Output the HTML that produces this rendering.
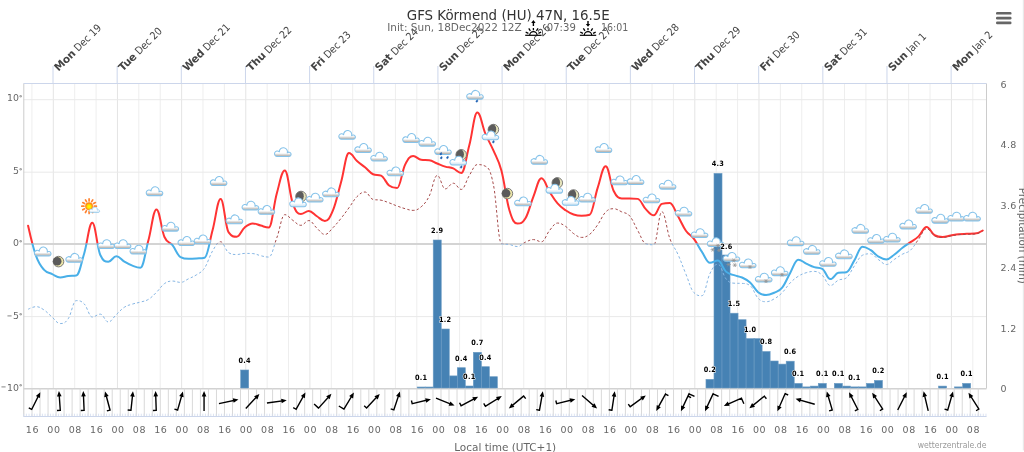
<!DOCTYPE html>
<html lang="en"><head><meta charset="utf-8"><title>GFS Körmend (HU) 47N, 16.5E</title>
<style>html,body{margin:0;padding:0;background:#fff;overflow:hidden}svg{display:block}text{font-family:"DejaVu Sans Condensed","DejaVu Sans","Liberation Sans",sans-serif}.bw,.w text{font-family:"DejaVu Sans","Liberation Sans",sans-serif}</style></head><body>
<svg width="1024" height="452" viewBox="0 0 1024 452">
<defs>
<linearGradient id="cg" x1="0" y1="0" x2="0" y2="1"><stop offset="0" stop-color="#fff"/><stop offset="0.62" stop-color="#fff"/><stop offset="0.9" stop-color="#bdb9b5"/><stop offset="1" stop-color="#9fc9e4"/></linearGradient>
<linearGradient id="cg2" x1="0" y1="0" x2="0" y2="1"><stop offset="0" stop-color="#fff"/><stop offset="0.6" stop-color="#fff"/><stop offset="1" stop-color="#c4dff0"/></linearGradient>
<radialGradient id="sg" cx="0.5" cy="0.55" r="0.5"><stop offset="0" stop-color="#ffff00"/><stop offset="0.45" stop-color="#ffe800"/><stop offset="1" stop-color="#ff7a10"/></radialGradient>
<g id="cl"><path d="M-5.5,4.42A2.8,2.8 0 1 1 -3.45,-0.29A4.05,4.05 0 1 1 4.5,0.71A2.2,2.2 0 1 1 6.1,4.42Z" fill="url(#cg)" stroke="#86c3ea" stroke-width="1.05" stroke-linejoin="round"/></g>
<g id="cl2"><path d="M-5.5,4.42A2.8,2.8 0 1 1 -3.45,-0.29A4.05,4.05 0 1 1 4.5,0.71A2.2,2.2 0 1 1 6.1,4.42Z" fill="url(#cg2)" stroke="#86c3ea" stroke-width="1.05" stroke-linejoin="round"/></g>
<g id="mo"><circle r="5.3" fill="#ece6a8" stroke="#6e6e6e" stroke-width="0.9"/><circle cx="-1.3" cy="-0.4" r="4.3" fill="#5a5a5a"/></g>
<clipPath id="mclip"><circle r="5.3"/></clipPath>
<g id="mo2"><circle r="5.3" fill="#e8e6bc"/><circle cx="-3.9" cy="-0.3" r="6.7" fill="#5c5c5c" clip-path="url(#mclip)"/><circle r="5.3" fill="none" stroke="#707070" stroke-width="0.9"/></g>
<g id="dr"><path d="M0.7,-1.3C1.2,-0.3 1,1.1 0,1.1C-1,1.1 -1.1,0 -0.5,-0.6Z" fill="#1f62b4" stroke="#1f62b4" stroke-width="0.5"/></g>
<g id="sf" stroke="#929292" stroke-width="0.75" stroke-linecap="round"><path d="M-1.8,0H1.8M-0.9,-1.55L0.9,1.55M0.9,-1.55L-0.9,1.55"/></g>
<path id="a0" d="M0,5.9L-1.25,5.9 0,8.8 1.25,5.9 0,5.9 0,-9.4"/>
<path id="a1" d="M0,5.9L-1.25,5.9 0,8.8 1.25,5.9 0,5.9 0,-9.4M0,-8.7L3.3,-8.7"/>
<path id="a2" d="M0,5.9L-1.25,5.9 0,8.8 1.25,5.9 0,5.9 0,-9.4M0,-8.7L6,-8.7"/>
<path id="a3" d="M0,5.9L-1.25,5.9 0,8.8 1.25,5.9 0,5.9 0,-9.4M0,-8.7L6,-8.7M0,-6L3.5,-6"/>
<clipPath id="cu"><rect x="0" y="0" width="1024" height="243.5"/></clipPath>
<clipPath id="cd"><rect x="0" y="243.5" width="1024" height="300"/></clipPath>
</defs>
<rect width="1024" height="452" fill="#fff"/>
<rect x="1022.8" y="0" width="1.2" height="450.4" fill="#e9e9e9"/>
<g fill="none"><path d="M31.92,83.5V388.5" stroke="#eeeeee" stroke-width="1"/><path d="M53.3,83.5V388.5" stroke="#e4e4e4" stroke-width="1"/><path d="M74.69,83.5V388.5" stroke="#eeeeee" stroke-width="1"/><path d="M96.07,83.5V388.5" stroke="#eeeeee" stroke-width="1"/><path d="M117.46,83.5V388.5" stroke="#e4e4e4" stroke-width="1"/><path d="M138.84,83.5V388.5" stroke="#eeeeee" stroke-width="1"/><path d="M160.22,83.5V388.5" stroke="#eeeeee" stroke-width="1"/><path d="M181.61,83.5V388.5" stroke="#e4e4e4" stroke-width="1"/><path d="M202.99,83.5V388.5" stroke="#eeeeee" stroke-width="1"/><path d="M224.37,83.5V388.5" stroke="#eeeeee" stroke-width="1"/><path d="M245.76,83.5V388.5" stroke="#e4e4e4" stroke-width="1"/><path d="M267.14,83.5V388.5" stroke="#eeeeee" stroke-width="1"/><path d="M288.53,83.5V388.5" stroke="#eeeeee" stroke-width="1"/><path d="M309.91,83.5V388.5" stroke="#e4e4e4" stroke-width="1"/><path d="M331.29,83.5V388.5" stroke="#eeeeee" stroke-width="1"/><path d="M352.68,83.5V388.5" stroke="#eeeeee" stroke-width="1"/><path d="M374.06,83.5V388.5" stroke="#e4e4e4" stroke-width="1"/><path d="M395.45,83.5V388.5" stroke="#eeeeee" stroke-width="1"/><path d="M416.83,83.5V388.5" stroke="#eeeeee" stroke-width="1"/><path d="M438.21,83.5V388.5" stroke="#e4e4e4" stroke-width="1"/><path d="M459.6,83.5V388.5" stroke="#eeeeee" stroke-width="1"/><path d="M480.98,83.5V388.5" stroke="#eeeeee" stroke-width="1"/><path d="M502.37,83.5V388.5" stroke="#e4e4e4" stroke-width="1"/><path d="M523.75,83.5V388.5" stroke="#eeeeee" stroke-width="1"/><path d="M545.14,83.5V388.5" stroke="#eeeeee" stroke-width="1"/><path d="M566.52,83.5V388.5" stroke="#e4e4e4" stroke-width="1"/><path d="M587.9,83.5V388.5" stroke="#eeeeee" stroke-width="1"/><path d="M609.29,83.5V388.5" stroke="#eeeeee" stroke-width="1"/><path d="M630.67,83.5V388.5" stroke="#e4e4e4" stroke-width="1"/><path d="M652.06,83.5V388.5" stroke="#eeeeee" stroke-width="1"/><path d="M673.44,83.5V388.5" stroke="#eeeeee" stroke-width="1"/><path d="M694.82,83.5V388.5" stroke="#e4e4e4" stroke-width="1"/><path d="M716.21,83.5V388.5" stroke="#eeeeee" stroke-width="1"/><path d="M737.59,83.5V388.5" stroke="#eeeeee" stroke-width="1"/><path d="M758.98,83.5V388.5" stroke="#e4e4e4" stroke-width="1"/><path d="M780.36,83.5V388.5" stroke="#eeeeee" stroke-width="1"/><path d="M801.74,83.5V388.5" stroke="#eeeeee" stroke-width="1"/><path d="M823.13,83.5V388.5" stroke="#e4e4e4" stroke-width="1"/><path d="M844.51,83.5V388.5" stroke="#eeeeee" stroke-width="1"/><path d="M865.9,83.5V388.5" stroke="#eeeeee" stroke-width="1"/><path d="M887.28,83.5V388.5" stroke="#e4e4e4" stroke-width="1"/><path d="M908.66,83.5V388.5" stroke="#eeeeee" stroke-width="1"/><path d="M930.05,83.5V388.5" stroke="#eeeeee" stroke-width="1"/><path d="M951.43,83.5V388.5" stroke="#e4e4e4" stroke-width="1"/><path d="M972.82,83.5V388.5" stroke="#eeeeee" stroke-width="1"/><path d="M23.5,99.7H986.5" stroke="#e9e9e9" stroke-width="1"/><path d="M23.5,172.2H986.5" stroke="#e9e9e9" stroke-width="1"/><path d="M23.5,316.6H986.5" stroke="#e9e9e9" stroke-width="1"/></g>
<path d="M23.5,243.95H986.5" stroke="#d4d4d4" stroke-width="1.9" fill="none"/>
<path d="M23.8,83.5V416.5" stroke="#ccc" stroke-width="1" fill="none"/>
<path d="M986.5,83.5V388.5" stroke="#ccc" stroke-width="1" fill="none"/>
<path d="M23.5,388.7H986.5" stroke="#d2d2d2" stroke-width="1.4" fill="none"/>
<path d="M23.5,83.5H986.5" stroke="#ccd6eb" stroke-width="1" fill="none"/>
<path d="M53,66V83.5M117.16,66V83.5M181.31,66V83.5M245.46,66V83.5M309.61,66V83.5M373.76,66V83.5M437.91,66V83.5M502.07,66V83.5M566.22,66V83.5M630.37,66V83.5M694.52,66V83.5M758.68,66V83.5M822.83,66V83.5M886.98,66V83.5M951.13,66V83.5" stroke="#ccd6eb" stroke-width="1" fill="none"/>
<g><text transform="translate(58.6,71.8) rotate(-45)" font-size="10.5" fill="#444"><tspan font-weight="bold" font-size="10.6" class="bw" letter-spacing="-0.15">Mon</tspan> Dec 19</text><text transform="translate(122.76,71.8) rotate(-45)" font-size="10.5" fill="#444"><tspan font-weight="bold" font-size="10.6" class="bw" letter-spacing="-0.15">Tue</tspan> Dec 20</text><text transform="translate(186.91,71.8) rotate(-45)" font-size="10.5" fill="#444"><tspan font-weight="bold" font-size="10.6" class="bw" letter-spacing="-0.15">Wed</tspan> Dec 21</text><text transform="translate(251.06,71.8) rotate(-45)" font-size="10.5" fill="#444"><tspan font-weight="bold" font-size="10.6" class="bw" letter-spacing="-0.15">Thu</tspan> Dec 22</text><text transform="translate(315.21,71.8) rotate(-45)" font-size="10.5" fill="#444"><tspan font-weight="bold" font-size="10.6" class="bw" letter-spacing="-0.15">Fri</tspan> Dec 23</text><text transform="translate(379.36,71.8) rotate(-45)" font-size="10.5" fill="#444"><tspan font-weight="bold" font-size="10.6" class="bw" letter-spacing="-0.15">Sat</tspan> Dec 24</text><text transform="translate(443.51,71.8) rotate(-45)" font-size="10.5" fill="#444"><tspan font-weight="bold" font-size="10.6" class="bw" letter-spacing="-0.15">Sun</tspan> Dec 25</text><text transform="translate(507.67,71.8) rotate(-45)" font-size="10.5" fill="#444"><tspan font-weight="bold" font-size="10.6" class="bw" letter-spacing="-0.15">Mon</tspan> Dec 26</text><text transform="translate(571.82,71.8) rotate(-45)" font-size="10.5" fill="#444"><tspan font-weight="bold" font-size="10.6" class="bw" letter-spacing="-0.15">Tue</tspan> Dec 27</text><text transform="translate(635.97,71.8) rotate(-45)" font-size="10.5" fill="#444"><tspan font-weight="bold" font-size="10.6" class="bw" letter-spacing="-0.15">Wed</tspan> Dec 28</text><text transform="translate(700.12,71.8) rotate(-45)" font-size="10.5" fill="#444"><tspan font-weight="bold" font-size="10.6" class="bw" letter-spacing="-0.15">Thu</tspan> Dec 29</text><text transform="translate(764.28,71.8) rotate(-45)" font-size="10.5" fill="#444"><tspan font-weight="bold" font-size="10.6" class="bw" letter-spacing="-0.15">Fri</tspan> Dec 30</text><text transform="translate(828.43,71.8) rotate(-45)" font-size="10.5" fill="#444"><tspan font-weight="bold" font-size="10.6" class="bw" letter-spacing="-0.15">Sat</tspan> Dec 31</text><text transform="translate(892.58,71.8) rotate(-45)" font-size="10.5" fill="#444"><tspan font-weight="bold" font-size="10.6" class="bw" letter-spacing="-0.15">Sun</tspan> Jan 1</text><text transform="translate(956.73,71.8) rotate(-45)" font-size="10.5" fill="#444"><tspan font-weight="bold" font-size="10.6" class="bw" letter-spacing="-0.15">Mon</tspan> Jan 2</text></g>
<text x="508.3" y="19.6" text-anchor="middle" font-size="14.7" fill="#333333" textLength="203" lengthAdjust="spacingAndGlyphs">GFS Körmend (HU) 47N, 16.5E</text>
<text x="387.2" y="30.9" font-size="10.8" fill="#666666" textLength="134.5" lengthAdjust="spacingAndGlyphs">Init: Sun, 18Dec2022 12Z</text>
<text x="546.8" y="30.9" font-size="10.8" fill="#666666" textLength="29" lengthAdjust="spacingAndGlyphs">07:39</text>
<text x="601" y="30.9" font-size="10.8" fill="#666666" textLength="27.3" lengthAdjust="spacingAndGlyphs">16:01</text>
<g transform="translate(533.4,35.3)" stroke="#000" fill="none" stroke-width="1.3"><path d="M-8.2,0H8.2" stroke-width="1.2"/><path d="M-3.7,0A3.7,3.7 0 0 1 3.7,0" stroke-width="1.2"/><path d="M5.01,-2.02L7.7,-3.11"/><path d="M3.02,-4.48L4.64,-6.88"/><path d="M0,-5L0,-7.3"/><path d="M-3.02,-4.48L-4.64,-6.88"/><path d="M-5.01,-2.02L-7.7,-3.11"/><path d="M0,-9.3V-13" stroke-width="1.4"/><path d="M-2.2,-12.4L0,-15.2 2.2,-12.4Z" fill="#000" stroke="none"/></g>
<g transform="translate(588,35.3)" stroke="#000" fill="none" stroke-width="1.3"><path d="M-8.2,0H8.2" stroke-width="1.2"/><path d="M-3.7,0A3.7,3.7 0 0 1 3.7,0" stroke-width="1.2"/><path d="M5.01,-2.02L7.7,-3.11"/><path d="M3.02,-4.48L4.64,-6.88"/><path d="M0,-5L0,-7.3"/><path d="M-3.02,-4.48L-4.64,-6.88"/><path d="M-5.01,-2.02L-7.7,-3.11"/><path d="M0,-14.4V-11" stroke-width="1.4"/><path d="M-2.2,-11.4L0,-8.6 2.2,-11.4Z" fill="#000" stroke="none"/></g>
<g fill="#666"><rect x="996" y="12" width="15.5" height="2.6" rx="1.2"/><rect x="996" y="16.8" width="15.5" height="2.6" rx="1.2"/><rect x="996" y="21.6" width="15.5" height="2.6" rx="1.2"/></g>
<g font-size="9.4" fill="#666666" class="w"><text x="22.3" y="100.85" text-anchor="end">10<tspan font-size="6.6" dy="-1.2" font-weight="bold" fill="#606060">°</tspan></text><text x="22.3" y="173.85" text-anchor="end">5<tspan font-size="6.6" dy="-1.2" font-weight="bold" fill="#606060">°</tspan></text><text x="22.3" y="246.05" text-anchor="end">0<tspan font-size="6.6" dy="-1.2" font-weight="bold" fill="#606060">°</tspan></text><text x="22.3" y="318.85" text-anchor="end"><tspan font-size="6.6" dy="-1.2" font-weight="bold">−</tspan><tspan dy="1.2" dx="0.7">5</tspan><tspan font-size="6.6" dy="-1.2" font-weight="bold" fill="#606060">°</tspan></text><text x="22.3" y="390.55" text-anchor="end"><tspan font-size="6.6" dy="-1.2" font-weight="bold">−</tspan><tspan dy="1.2" dx="0.7">10</tspan><tspan font-size="6.6" dy="-1.2" font-weight="bold" fill="#606060">°</tspan></text></g>
<g font-size="9.5" fill="#666666" letter-spacing="0.35" class="w"><text x="1000.6" y="392.45">0</text><text x="1000.6" y="331.95">1.2</text><text x="1000.6" y="270.95">2.4</text><text x="1000.6" y="208.85">3.6</text><text x="1000.6" y="147.95">4.8</text><text x="1000.6" y="87.75">6</text></g>
<text transform="translate(1018.6,235.8) rotate(90)" text-anchor="middle" font-size="10.5" fill="#666666" textLength="96" lengthAdjust="spacingAndGlyphs">Precipitation (mm)</text>
<g fill="#4682b4" stroke="#6c9cc4" stroke-width="0.6"><rect x="240.69" y="370" width="8.02" height="18"/><rect x="417.18" y="387" width="8.02" height="1"/><rect x="425.2" y="387" width="8.02" height="1"/><rect x="433.22" y="240" width="8.02" height="148"/><rect x="441.24" y="329" width="8.02" height="59"/><rect x="449.27" y="375.9" width="8.02" height="12.1"/><rect x="457.29" y="367.7" width="8.02" height="20.3"/><rect x="465.31" y="386" width="8.02" height="2"/><rect x="473.33" y="352.3" width="8.02" height="35.7"/><rect x="481.35" y="366.7" width="8.02" height="21.3"/><rect x="489.38" y="376.7" width="8.02" height="11.3"/><rect x="705.97" y="379.3" width="8.02" height="8.7"/><rect x="713.99" y="173.4" width="8.02" height="214.6"/><rect x="722.01" y="255" width="8.02" height="133"/><rect x="730.04" y="313.2" width="8.02" height="74.8"/><rect x="738.06" y="319.7" width="8.02" height="68.3"/><rect x="746.08" y="338.6" width="8.02" height="49.4"/><rect x="754.1" y="338.6" width="8.02" height="49.4"/><rect x="762.12" y="351.5" width="8.02" height="36.5"/><rect x="770.15" y="361" width="8.02" height="27"/><rect x="778.17" y="364.1" width="8.02" height="23.9"/><rect x="786.19" y="361.2" width="8.02" height="26.8"/><rect x="794.21" y="383.4" width="8.02" height="4.6"/><rect x="802.23" y="386.9" width="8.02" height="1.1"/><rect x="810.26" y="386.1" width="8.02" height="1.9"/><rect x="818.28" y="383.4" width="8.02" height="4.6"/><rect x="834.32" y="383.4" width="8.02" height="4.6"/><rect x="842.34" y="386.1" width="8.02" height="1.9"/><rect x="850.37" y="386.9" width="8.02" height="1.1"/><rect x="858.39" y="386.9" width="8.02" height="1.1"/><rect x="866.41" y="383.4" width="8.02" height="4.6"/><rect x="874.43" y="380.4" width="8.02" height="7.6"/><rect x="938.61" y="386.1" width="8.02" height="1.9"/><rect x="954.65" y="386.9" width="8.02" height="1.1"/><rect x="962.67" y="383.4" width="8.02" height="4.6"/></g>
<g fill="none" stroke-width="2" stroke-linejoin="round" stroke-linecap="round"><path d="M28.1,225.7C28.1,225.7 32.91,247.37 36.12,256.21C39.33,265.04 40.94,266.3 44.14,269.86C47.35,273.43 48.96,272.51 52.17,274.03C55.37,275.55 56.98,277.46 60.19,277.46C63.4,277.46 65,276.32 68.21,275.92C71.42,275.52 73.02,275.92 76.23,275.47C79.44,275.02 81.05,263.71 84.25,253.17C87.46,242.63 89.07,222.77 92.28,222.77C95.48,222.77 97.09,248.17 100.3,254.97C103.51,261.78 105.11,261.78 108.32,261.78C111.53,261.78 113.13,256.18 116.34,256.18C119.55,256.18 121.16,259.63 124.36,261.52C127.57,263.41 129.18,264.4 132.39,265.63C135.59,266.85 137.2,267.66 140.41,267.66C143.62,267.66 145.22,251.95 148.43,240.3C151.64,228.64 153.24,209.4 156.45,209.4C159.66,209.4 161.27,229.84 164.47,237.01C167.68,244.17 169.29,241.22 172.5,245.23C175.7,249.25 177.31,255.32 180.52,257.08C183.73,258.84 185.33,258.84 188.54,258.84C191.75,258.84 193.35,258.72 196.56,258.49C199.77,258.26 201.38,258.49 204.58,257.68C207.79,256.86 209.4,241.75 212.61,230.03C215.81,218.3 217.42,199.05 220.63,199.05C223.84,199.05 225.44,228.12 228.65,232.46C231.86,236.8 233.46,236.8 236.67,236.8C239.88,236.8 241.49,230.15 244.69,227.47C247.9,224.79 249.51,223.4 252.72,223.4C255.92,223.4 257.53,224.76 260.74,225.58C263.95,226.4 265.55,227.49 268.76,227.49C271.97,227.49 273.57,204.89 276.78,193.49C279.99,182.09 281.6,170.49 284.8,170.49C288.01,170.49 289.62,194.84 292.83,203.57C296.03,212.3 297.64,214.12 300.85,214.12C304.06,214.12 305.66,210.94 308.87,210.94C312.08,210.94 313.68,214.23 316.89,216.23C320.1,218.24 321.71,220.96 324.91,220.96C328.12,220.96 329.73,218.15 332.94,210.47C336.14,202.79 337.75,194.04 340.96,182.57C344.17,171.1 345.77,153.12 348.98,153.12C352.19,153.12 353.79,158.16 357,161C360.21,163.84 361.82,164.68 365.02,167.32C368.23,169.97 369.84,172.87 373.05,174.22C376.25,175.57 377.86,174.22 381.07,175.57C384.28,176.92 385.88,183.03 389.09,185.53C392.3,188.03 393.9,188.06 397.11,188.06C400.32,188.06 401.93,171.1 405.13,164.67C408.34,158.25 409.95,155.95 413.16,155.95C416.36,155.95 417.97,159.42 421.18,159.81C424.39,160.2 425.99,159.81 429.2,160.2C432.41,160.59 434.01,162.21 437.22,163.49C440.43,164.77 442.04,165.62 445.24,166.61C448.45,167.59 450.06,167.16 453.27,168.42C456.47,169.68 458.08,172.9 461.29,172.9C464.5,172.9 466.1,157.44 469.31,145.35C472.52,133.27 474.12,112.48 477.33,112.48C480.54,112.48 482.15,126.01 485.35,133.6C488.56,141.2 490.17,143.05 493.38,150.45C496.58,157.85 498.19,158.66 501.4,170.61C504.61,182.56 506.21,199.63 509.42,210.22C512.63,220.81 514.23,223.58 517.44,223.58C520.65,223.58 522.26,223.58 525.46,218.32C528.67,213.06 530.28,204.42 533.49,196.41C536.69,188.4 538.3,178.26 541.51,178.26C544.72,178.26 546.32,186.71 549.53,191.72C552.74,196.73 554.34,199.6 557.55,203.31C560.76,207.02 562.37,208.03 565.57,210.27C568.78,212.5 570.39,213.38 573.6,214.49C576.8,215.6 578.41,215.83 581.62,215.83C584.83,215.83 586.43,215.83 589.64,214.76C592.85,213.7 594.45,197.57 597.66,187.88C600.87,178.18 602.48,166.28 605.68,166.28C608.89,166.28 610.5,184.58 613.71,191.01C616.91,197.43 618.52,198.4 621.73,198.4C624.94,198.4 626.54,198.4 629.75,198.4C632.96,198.4 634.56,198.4 637.77,198.87C640.98,199.34 642.59,205.85 645.79,209.15C649,212.45 650.61,215.37 653.82,215.37C657.02,215.37 658.63,204.8 661.84,203.86C665.05,202.92 666.65,202.92 669.86,202.92C673.07,202.92 674.67,210.4 677.88,215.96C681.09,221.51 682.7,226.13 685.9,230.72C689.11,235.3 690.72,234.65 693.93,238.89C697.13,243.12 698.74,247.12 701.95,251.89C705.16,256.67 706.76,262.77 709.97,262.77C713.18,262.77 714.78,260.6 717.99,260.6C721.2,260.6 722.81,268.71 726.01,271.63C729.22,274.54 730.83,274 734.04,275.18C737.24,276.36 738.85,276.07 742.06,277.53C745.27,278.98 746.87,279.51 750.08,282.44C753.29,285.36 754.89,289.63 758.1,292.17C761.31,294.7 762.92,295.09 766.12,295.09C769.33,295.09 770.94,294.24 774.15,292.75C777.35,291.26 778.96,291.6 782.17,287.63C785.38,283.65 786.98,278.47 790.19,272.89C793.4,267.32 795,259.76 798.21,259.76C801.42,259.76 803.03,262.11 806.23,263.59C809.44,265.08 811.05,266.11 814.26,267.17C817.46,268.22 819.07,267.17 822.28,268.85C825.49,270.54 827.09,279.11 830.3,279.11C833.51,279.11 835.11,273.45 838.32,272.81C841.53,272.18 843.14,272.81 846.34,272.18C849.55,271.55 851.16,265.5 854.37,260.4C857.57,255.29 859.18,246.65 862.39,246.65C865.6,246.65 867.2,247.94 870.41,249.92C873.62,251.89 875.22,254.62 878.43,256.52C881.64,258.43 883.25,259.42 886.45,259.42C889.66,259.42 891.27,256.82 894.48,254.49C897.68,252.16 899.29,250.25 902.5,247.78C905.71,245.32 907.31,244.45 910.52,242.17C913.73,239.88 915.33,239.39 918.54,236.36C921.75,233.33 923.36,227.01 926.56,227.01C929.77,227.01 931.38,233.49 934.59,235.25C937.79,237.01 939.4,237.01 942.61,237.01C945.82,237.01 947.42,236.1 950.63,235.53C953.84,234.96 955.44,234.51 958.65,234.17C961.86,233.83 963.47,233.93 966.67,233.82C969.88,233.71 971.49,233.82 974.7,233.62C977.9,233.42 982.72,230.5 982.72,230.5" stroke="#ff3333" clip-path="url(#cu)"/><path d="M28.1,225.7C28.1,225.7 32.91,247.37 36.12,256.21C39.33,265.04 40.94,266.3 44.14,269.86C47.35,273.43 48.96,272.51 52.17,274.03C55.37,275.55 56.98,277.46 60.19,277.46C63.4,277.46 65,276.32 68.21,275.92C71.42,275.52 73.02,275.92 76.23,275.47C79.44,275.02 81.05,263.71 84.25,253.17C87.46,242.63 89.07,222.77 92.28,222.77C95.48,222.77 97.09,248.17 100.3,254.97C103.51,261.78 105.11,261.78 108.32,261.78C111.53,261.78 113.13,256.18 116.34,256.18C119.55,256.18 121.16,259.63 124.36,261.52C127.57,263.41 129.18,264.4 132.39,265.63C135.59,266.85 137.2,267.66 140.41,267.66C143.62,267.66 145.22,251.95 148.43,240.3C151.64,228.64 153.24,209.4 156.45,209.4C159.66,209.4 161.27,229.84 164.47,237.01C167.68,244.17 169.29,241.22 172.5,245.23C175.7,249.25 177.31,255.32 180.52,257.08C183.73,258.84 185.33,258.84 188.54,258.84C191.75,258.84 193.35,258.72 196.56,258.49C199.77,258.26 201.38,258.49 204.58,257.68C207.79,256.86 209.4,241.75 212.61,230.03C215.81,218.3 217.42,199.05 220.63,199.05C223.84,199.05 225.44,228.12 228.65,232.46C231.86,236.8 233.46,236.8 236.67,236.8C239.88,236.8 241.49,230.15 244.69,227.47C247.9,224.79 249.51,223.4 252.72,223.4C255.92,223.4 257.53,224.76 260.74,225.58C263.95,226.4 265.55,227.49 268.76,227.49C271.97,227.49 273.57,204.89 276.78,193.49C279.99,182.09 281.6,170.49 284.8,170.49C288.01,170.49 289.62,194.84 292.83,203.57C296.03,212.3 297.64,214.12 300.85,214.12C304.06,214.12 305.66,210.94 308.87,210.94C312.08,210.94 313.68,214.23 316.89,216.23C320.1,218.24 321.71,220.96 324.91,220.96C328.12,220.96 329.73,218.15 332.94,210.47C336.14,202.79 337.75,194.04 340.96,182.57C344.17,171.1 345.77,153.12 348.98,153.12C352.19,153.12 353.79,158.16 357,161C360.21,163.84 361.82,164.68 365.02,167.32C368.23,169.97 369.84,172.87 373.05,174.22C376.25,175.57 377.86,174.22 381.07,175.57C384.28,176.92 385.88,183.03 389.09,185.53C392.3,188.03 393.9,188.06 397.11,188.06C400.32,188.06 401.93,171.1 405.13,164.67C408.34,158.25 409.95,155.95 413.16,155.95C416.36,155.95 417.97,159.42 421.18,159.81C424.39,160.2 425.99,159.81 429.2,160.2C432.41,160.59 434.01,162.21 437.22,163.49C440.43,164.77 442.04,165.62 445.24,166.61C448.45,167.59 450.06,167.16 453.27,168.42C456.47,169.68 458.08,172.9 461.29,172.9C464.5,172.9 466.1,157.44 469.31,145.35C472.52,133.27 474.12,112.48 477.33,112.48C480.54,112.48 482.15,126.01 485.35,133.6C488.56,141.2 490.17,143.05 493.38,150.45C496.58,157.85 498.19,158.66 501.4,170.61C504.61,182.56 506.21,199.63 509.42,210.22C512.63,220.81 514.23,223.58 517.44,223.58C520.65,223.58 522.26,223.58 525.46,218.32C528.67,213.06 530.28,204.42 533.49,196.41C536.69,188.4 538.3,178.26 541.51,178.26C544.72,178.26 546.32,186.71 549.53,191.72C552.74,196.73 554.34,199.6 557.55,203.31C560.76,207.02 562.37,208.03 565.57,210.27C568.78,212.5 570.39,213.38 573.6,214.49C576.8,215.6 578.41,215.83 581.62,215.83C584.83,215.83 586.43,215.83 589.64,214.76C592.85,213.7 594.45,197.57 597.66,187.88C600.87,178.18 602.48,166.28 605.68,166.28C608.89,166.28 610.5,184.58 613.71,191.01C616.91,197.43 618.52,198.4 621.73,198.4C624.94,198.4 626.54,198.4 629.75,198.4C632.96,198.4 634.56,198.4 637.77,198.87C640.98,199.34 642.59,205.85 645.79,209.15C649,212.45 650.61,215.37 653.82,215.37C657.02,215.37 658.63,204.8 661.84,203.86C665.05,202.92 666.65,202.92 669.86,202.92C673.07,202.92 674.67,210.4 677.88,215.96C681.09,221.51 682.7,226.13 685.9,230.72C689.11,235.3 690.72,234.65 693.93,238.89C697.13,243.12 698.74,247.12 701.95,251.89C705.16,256.67 706.76,262.77 709.97,262.77C713.18,262.77 714.78,260.6 717.99,260.6C721.2,260.6 722.81,268.71 726.01,271.63C729.22,274.54 730.83,274 734.04,275.18C737.24,276.36 738.85,276.07 742.06,277.53C745.27,278.98 746.87,279.51 750.08,282.44C753.29,285.36 754.89,289.63 758.1,292.17C761.31,294.7 762.92,295.09 766.12,295.09C769.33,295.09 770.94,294.24 774.15,292.75C777.35,291.26 778.96,291.6 782.17,287.63C785.38,283.65 786.98,278.47 790.19,272.89C793.4,267.32 795,259.76 798.21,259.76C801.42,259.76 803.03,262.11 806.23,263.59C809.44,265.08 811.05,266.11 814.26,267.17C817.46,268.22 819.07,267.17 822.28,268.85C825.49,270.54 827.09,279.11 830.3,279.11C833.51,279.11 835.11,273.45 838.32,272.81C841.53,272.18 843.14,272.81 846.34,272.18C849.55,271.55 851.16,265.5 854.37,260.4C857.57,255.29 859.18,246.65 862.39,246.65C865.6,246.65 867.2,247.94 870.41,249.92C873.62,251.89 875.22,254.62 878.43,256.52C881.64,258.43 883.25,259.42 886.45,259.42C889.66,259.42 891.27,256.82 894.48,254.49C897.68,252.16 899.29,250.25 902.5,247.78C905.71,245.32 907.31,244.45 910.52,242.17C913.73,239.88 915.33,239.39 918.54,236.36C921.75,233.33 923.36,227.01 926.56,227.01C929.77,227.01 931.38,233.49 934.59,235.25C937.79,237.01 939.4,237.01 942.61,237.01C945.82,237.01 947.42,236.1 950.63,235.53C953.84,234.96 955.44,234.51 958.65,234.17C961.86,233.83 963.47,233.93 966.67,233.82C969.88,233.71 971.49,233.82 974.7,233.62C977.9,233.42 982.72,230.5 982.72,230.5" stroke="#48afe8" clip-path="url(#cd)"/></g>
<g fill="none" stroke-width="1" stroke-dasharray="2.6,2.2" stroke-linejoin="round"><path d="M28.1,309.3C28.1,309.3 32.91,306.63 36.12,306.63C39.33,306.63 40.94,307.93 44.14,310.04C47.35,312.14 48.96,314.46 52.17,317.17C55.37,319.87 56.98,323.56 60.19,323.56C63.4,323.56 65,323.39 68.21,318.8C71.42,314.21 73.02,300.63 76.23,300.63C79.44,300.63 81.05,300.66 84.25,303.94C87.46,307.22 89.07,317.02 92.28,317.02C95.48,317.02 97.09,314.13 100.3,314.13C103.51,314.13 105.11,321.98 108.32,321.98C111.53,321.98 113.13,317.49 116.34,314.55C119.55,311.6 121.16,309.33 124.36,307.24C127.57,305.16 129.18,305.13 132.39,304.1C135.59,303.07 137.2,303.04 140.41,302.09C143.62,301.14 145.22,301.31 148.43,299.36C151.64,297.41 153.24,295.5 156.45,292.34C159.66,289.19 161.27,285.86 164.47,283.6C167.68,281.34 169.29,281.05 172.5,281.05C175.7,281.05 177.31,282.41 180.52,282.41C183.73,282.41 185.33,280.31 188.54,278.78C191.75,277.25 193.35,276.91 196.56,274.75C199.77,272.6 201.38,272.77 204.58,267.99C207.79,263.22 209.4,256.12 212.61,250.87C215.81,245.63 217.42,241.76 220.63,241.76C223.84,241.76 225.44,250.81 228.65,252.68C231.86,254.55 233.46,254.55 236.67,254.55C239.88,254.55 241.49,253.41 244.69,253.41C247.9,253.41 249.51,253.41 252.72,253.57C255.92,253.72 257.53,255.02 260.74,255.73C263.95,256.43 265.55,257.09 268.76,257.09C271.97,257.09 273.57,246.42 276.78,237.93C279.99,229.44 281.6,214.65 284.8,214.65C288.01,214.65 289.62,218.19 292.83,220.33C296.03,222.46 297.64,225.33 300.85,225.33C304.06,225.33 305.66,220.56 308.87,220.56C312.08,220.56 313.68,225.4 316.89,228.18C320.1,230.96 321.71,234.45 324.91,234.45C328.12,234.45 329.73,230.92 332.94,227.72C336.14,224.51 337.75,222.41 340.96,218.43C344.17,214.44 345.77,212.14 348.98,207.78C352.19,203.42 353.79,199.79 357,196.64C360.21,193.49 361.82,192.02 365.02,192.02C368.23,192.02 369.84,198.71 373.05,199.46C376.25,200.2 377.86,199.53 381.07,200.2C384.28,200.87 385.88,201.65 389.09,202.81C392.3,203.97 393.9,204.83 397.11,206C400.32,207.18 401.93,207.8 405.13,208.68C408.34,209.55 409.95,210.37 413.16,210.37C416.36,210.37 417.97,209.65 421.18,206.8C424.39,203.96 425.99,202.42 429.2,196.14C432.41,189.87 434.01,175.42 437.22,175.42C440.43,175.42 442.04,188.89 445.24,188.89C448.45,188.89 450.06,183.2 453.27,183.2C456.47,183.2 458.08,189.46 461.29,189.46C464.5,189.46 466.1,180.47 469.31,175.5C472.52,170.52 474.12,164.59 477.33,164.59C480.54,164.59 482.15,164.59 485.35,166.23C488.56,167.87 490.17,169.02 493.38,184.52C496.58,200.01 498.19,242.88 501.4,243.71C504.61,244.53 506.21,243.96 509.42,244.53C512.63,245.11 514.23,246.58 517.44,246.58C520.65,246.58 522.26,243.54 525.46,242.14C528.67,240.74 530.28,239.59 533.49,239.59C536.69,239.59 538.3,241.78 541.51,241.78C544.72,241.78 546.32,234.25 549.53,230.5C552.74,226.76 554.34,223.05 557.55,223.05C560.76,223.05 562.37,224.27 565.57,226.37C568.78,228.48 570.39,231.39 573.6,233.59C576.8,235.79 578.41,237.4 581.62,237.4C584.83,237.4 586.43,236.91 589.64,234.39C592.85,231.87 594.45,229.26 597.66,224.79C600.87,220.32 602.48,215.25 605.68,212.03C608.89,208.82 610.5,208.7 613.71,208.7C616.91,208.7 618.52,210.42 621.73,211.89C624.94,213.35 626.54,212.29 629.75,216.02C632.96,219.75 634.56,225 637.77,230.55C640.98,236.1 642.59,242.74 645.79,243.76C649,244.78 650.61,244.78 653.82,244.78C657.02,244.78 658.63,211.68 661.84,211.68C665.05,211.68 666.65,230.14 669.86,238.65C673.07,247.16 674.67,247.13 677.88,254.22C681.09,261.31 682.7,266.44 685.9,274.11C689.11,281.78 690.72,289.42 693.93,292.59C697.13,295.76 698.74,295.76 701.95,295.76C705.16,295.76 706.76,279.78 709.97,273.46C713.18,267.14 714.78,264.16 717.99,264.16C721.2,264.16 722.81,275.02 726.01,278.83C729.22,282.63 730.83,283 734.04,283.2C737.24,283.4 738.85,283.2 742.06,283.4C745.27,283.6 746.87,283.4 750.08,285.6C753.29,287.8 754.89,295.01 758.1,298.24C761.31,301.46 762.92,301.73 766.12,301.73C769.33,301.73 770.94,300.72 774.15,298.91C777.35,297.1 778.96,295.89 782.17,292.69C785.38,289.49 786.98,286.19 790.19,282.91C793.4,279.63 795,278.34 798.21,276.29C801.42,274.25 803.03,273.68 806.23,272.7C809.44,271.72 811.05,271.39 814.26,271.39C817.46,271.39 819.07,272.41 822.28,275.23C825.49,278.05 827.09,285.48 830.3,285.48C833.51,285.48 835.11,281.71 838.32,280.19C841.53,278.67 843.14,280.19 846.34,277.87C849.55,275.55 851.16,270.44 854.37,265.93C857.57,261.41 859.18,256.84 862.39,255.31C865.6,253.77 867.2,253.77 870.41,253.77C873.62,253.77 875.22,257.41 878.43,259.57C881.64,261.72 883.25,264.53 886.45,264.53C889.66,264.53 891.27,261.41 894.48,259.34C897.68,257.26 899.29,256 902.5,254.16C905.71,252.33 907.31,253.14 910.52,250.18C913.73,247.21 915.33,243.62 918.54,239.32C921.75,235.03 923.36,228.71 926.56,228.71C929.77,228.71 931.38,233.99 934.59,235.75C937.79,237.51 939.4,237.51 942.61,237.51C945.82,237.51 947.42,236.6 950.63,236.03C953.84,235.46 955.44,235.01 958.65,234.67C961.86,234.33 963.47,234.43 966.67,234.32C969.88,234.21 971.49,234.32 974.7,234.12C977.9,233.92 982.72,231 982.72,231" stroke="#a64c4c" clip-path="url(#cu)"/><path d="M28.1,309.3C28.1,309.3 32.91,306.63 36.12,306.63C39.33,306.63 40.94,307.93 44.14,310.04C47.35,312.14 48.96,314.46 52.17,317.17C55.37,319.87 56.98,323.56 60.19,323.56C63.4,323.56 65,323.39 68.21,318.8C71.42,314.21 73.02,300.63 76.23,300.63C79.44,300.63 81.05,300.66 84.25,303.94C87.46,307.22 89.07,317.02 92.28,317.02C95.48,317.02 97.09,314.13 100.3,314.13C103.51,314.13 105.11,321.98 108.32,321.98C111.53,321.98 113.13,317.49 116.34,314.55C119.55,311.6 121.16,309.33 124.36,307.24C127.57,305.16 129.18,305.13 132.39,304.1C135.59,303.07 137.2,303.04 140.41,302.09C143.62,301.14 145.22,301.31 148.43,299.36C151.64,297.41 153.24,295.5 156.45,292.34C159.66,289.19 161.27,285.86 164.47,283.6C167.68,281.34 169.29,281.05 172.5,281.05C175.7,281.05 177.31,282.41 180.52,282.41C183.73,282.41 185.33,280.31 188.54,278.78C191.75,277.25 193.35,276.91 196.56,274.75C199.77,272.6 201.38,272.77 204.58,267.99C207.79,263.22 209.4,256.12 212.61,250.87C215.81,245.63 217.42,241.76 220.63,241.76C223.84,241.76 225.44,250.81 228.65,252.68C231.86,254.55 233.46,254.55 236.67,254.55C239.88,254.55 241.49,253.41 244.69,253.41C247.9,253.41 249.51,253.41 252.72,253.57C255.92,253.72 257.53,255.02 260.74,255.73C263.95,256.43 265.55,257.09 268.76,257.09C271.97,257.09 273.57,246.42 276.78,237.93C279.99,229.44 281.6,214.65 284.8,214.65C288.01,214.65 289.62,218.19 292.83,220.33C296.03,222.46 297.64,225.33 300.85,225.33C304.06,225.33 305.66,220.56 308.87,220.56C312.08,220.56 313.68,225.4 316.89,228.18C320.1,230.96 321.71,234.45 324.91,234.45C328.12,234.45 329.73,230.92 332.94,227.72C336.14,224.51 337.75,222.41 340.96,218.43C344.17,214.44 345.77,212.14 348.98,207.78C352.19,203.42 353.79,199.79 357,196.64C360.21,193.49 361.82,192.02 365.02,192.02C368.23,192.02 369.84,198.71 373.05,199.46C376.25,200.2 377.86,199.53 381.07,200.2C384.28,200.87 385.88,201.65 389.09,202.81C392.3,203.97 393.9,204.83 397.11,206C400.32,207.18 401.93,207.8 405.13,208.68C408.34,209.55 409.95,210.37 413.16,210.37C416.36,210.37 417.97,209.65 421.18,206.8C424.39,203.96 425.99,202.42 429.2,196.14C432.41,189.87 434.01,175.42 437.22,175.42C440.43,175.42 442.04,188.89 445.24,188.89C448.45,188.89 450.06,183.2 453.27,183.2C456.47,183.2 458.08,189.46 461.29,189.46C464.5,189.46 466.1,180.47 469.31,175.5C472.52,170.52 474.12,164.59 477.33,164.59C480.54,164.59 482.15,164.59 485.35,166.23C488.56,167.87 490.17,169.02 493.38,184.52C496.58,200.01 498.19,242.88 501.4,243.71C504.61,244.53 506.21,243.96 509.42,244.53C512.63,245.11 514.23,246.58 517.44,246.58C520.65,246.58 522.26,243.54 525.46,242.14C528.67,240.74 530.28,239.59 533.49,239.59C536.69,239.59 538.3,241.78 541.51,241.78C544.72,241.78 546.32,234.25 549.53,230.5C552.74,226.76 554.34,223.05 557.55,223.05C560.76,223.05 562.37,224.27 565.57,226.37C568.78,228.48 570.39,231.39 573.6,233.59C576.8,235.79 578.41,237.4 581.62,237.4C584.83,237.4 586.43,236.91 589.64,234.39C592.85,231.87 594.45,229.26 597.66,224.79C600.87,220.32 602.48,215.25 605.68,212.03C608.89,208.82 610.5,208.7 613.71,208.7C616.91,208.7 618.52,210.42 621.73,211.89C624.94,213.35 626.54,212.29 629.75,216.02C632.96,219.75 634.56,225 637.77,230.55C640.98,236.1 642.59,242.74 645.79,243.76C649,244.78 650.61,244.78 653.82,244.78C657.02,244.78 658.63,211.68 661.84,211.68C665.05,211.68 666.65,230.14 669.86,238.65C673.07,247.16 674.67,247.13 677.88,254.22C681.09,261.31 682.7,266.44 685.9,274.11C689.11,281.78 690.72,289.42 693.93,292.59C697.13,295.76 698.74,295.76 701.95,295.76C705.16,295.76 706.76,279.78 709.97,273.46C713.18,267.14 714.78,264.16 717.99,264.16C721.2,264.16 722.81,275.02 726.01,278.83C729.22,282.63 730.83,283 734.04,283.2C737.24,283.4 738.85,283.2 742.06,283.4C745.27,283.6 746.87,283.4 750.08,285.6C753.29,287.8 754.89,295.01 758.1,298.24C761.31,301.46 762.92,301.73 766.12,301.73C769.33,301.73 770.94,300.72 774.15,298.91C777.35,297.1 778.96,295.89 782.17,292.69C785.38,289.49 786.98,286.19 790.19,282.91C793.4,279.63 795,278.34 798.21,276.29C801.42,274.25 803.03,273.68 806.23,272.7C809.44,271.72 811.05,271.39 814.26,271.39C817.46,271.39 819.07,272.41 822.28,275.23C825.49,278.05 827.09,285.48 830.3,285.48C833.51,285.48 835.11,281.71 838.32,280.19C841.53,278.67 843.14,280.19 846.34,277.87C849.55,275.55 851.16,270.44 854.37,265.93C857.57,261.41 859.18,256.84 862.39,255.31C865.6,253.77 867.2,253.77 870.41,253.77C873.62,253.77 875.22,257.41 878.43,259.57C881.64,261.72 883.25,264.53 886.45,264.53C889.66,264.53 891.27,261.41 894.48,259.34C897.68,257.26 899.29,256 902.5,254.16C905.71,252.33 907.31,253.14 910.52,250.18C913.73,247.21 915.33,243.62 918.54,239.32C921.75,235.03 923.36,228.71 926.56,228.71C929.77,228.71 931.38,233.99 934.59,235.75C937.79,237.51 939.4,237.51 942.61,237.51C945.82,237.51 947.42,236.6 950.63,236.03C953.84,235.46 955.44,235.01 958.65,234.67C961.86,234.33 963.47,234.43 966.67,234.32C969.88,234.21 971.49,234.32 974.7,234.12C977.9,233.92 982.72,231 982.72,231" stroke="#86b6e4" clip-path="url(#cd)"/></g>
<g><use href="#cl" x="42.7" y="251.5"/><use href="#mo" x="58.5" y="261.6"/><use href="#cl" x="74.2" y="257.8"/><g transform="translate(89.1,206.2)"><path d="M5.2,0L7.3,0M4.5,2.6L6.32,3.65M2.6,4.5L3.65,6.32M0,5.2L0,7.3M-2.6,4.5L-3.65,6.32M-4.5,2.6L-6.32,3.65M-5.2,0L-7.3,0M-4.5,-2.6L-6.32,-3.65M-2.6,-4.5L-3.65,-6.32M0,-5.2L0,-7.3M2.6,-4.5L3.65,-6.32M4.5,-2.6L6.32,-3.65" stroke="#ff8330" stroke-width="1.7" stroke-linecap="round" fill="none"/><circle r="3.7" fill="url(#sg)" stroke="#ff8a1c" stroke-width="0.6"/><g transform="translate(5.4,3.6) scale(0.62)"><use href="#cl2"/></g></g><use href="#cl" x="106.2" y="244.1"/><use href="#cl" x="122.6" y="244.1"/><use href="#cl" x="138.3" y="249.6"/><use href="#cl" x="154.5" y="191.2"/><use href="#cl" x="170.3" y="226.7"/><use href="#cl" x="186.3" y="241"/><use href="#cl" x="202.5" y="239.4"/><use href="#cl" x="218.6" y="181"/><use href="#cl" x="234.4" y="219.3"/><use href="#cl" x="250.4" y="205.6"/><use href="#cl" x="266.4" y="209.9"/><use href="#cl" x="282.8" y="152.1"/><use href="#mo2" x="301" y="196.5"/><use href="#cl2" x="298" y="202.3"/><use href="#cl" x="314.8" y="197.6"/><use href="#cl" x="330.9" y="192.3"/><use href="#cl" x="347.1" y="134.9"/><use href="#cl" x="363.1" y="148"/><use href="#cl" x="379.1" y="156.6"/><use href="#cl" x="395.3" y="171.4"/><use href="#cl" x="411" y="138"/><use href="#cl" x="427.2" y="141.7"/><use href="#cl" x="443" y="150"/><use href="#dr" x="440.8" y="153.8"/><use href="#dr" x="441.2" y="157.8"/><use href="#dr" x="447.4" y="157.5"/><use href="#mo2" x="461.2" y="154.8"/><use href="#cl2" x="458.2" y="160.6"/><use href="#dr" x="461.1" y="167.1"/><use href="#cl" x="475" y="94.8"/><use href="#dr" x="476.8" y="101.1"/><use href="#mo2" x="493.4" y="129.6"/><use href="#cl2" x="490.4" y="135.4"/><use href="#dr" x="493.3" y="141.9"/><use href="#mo" x="507.4" y="193.6"/><use href="#cl" x="522.9" y="201.4"/><use href="#cl" x="539.3" y="159.8"/><use href="#mo2" x="557.3" y="182.9"/><use href="#cl2" x="554.3" y="188.7"/><use href="#mo2" x="573.5" y="195"/><use href="#cl2" x="570.5" y="200.8"/><use href="#cl" x="587.1" y="197.6"/><use href="#cl" x="603.5" y="148"/><use href="#cl" x="619.4" y="180.4"/><use href="#cl" x="635.6" y="180"/><use href="#cl" x="651.4" y="198.4"/><use href="#cl" x="667.6" y="184.7"/><use href="#cl" x="683.5" y="211.6"/><use href="#cl" x="699.6" y="233.1"/><use href="#cl" x="715.6" y="242.1"/><use href="#sf" x="717.9" y="245.7"/><use href="#sf" x="712.8" y="249.7"/><use href="#sf" x="719" y="250.3"/><use href="#cl" x="731.4" y="256.9"/><use href="#sf" x="733.7" y="260.5"/><use href="#sf" x="728.6" y="264.5"/><use href="#sf" x="734.8" y="265.1"/><use href="#cl" x="747.7" y="263.4"/><use href="#sf" x="750" y="267"/><use href="#cl" x="763.7" y="277.6"/><use href="#sf" x="766" y="281.2"/><use href="#cl" x="779.7" y="271.2"/><use href="#sf" x="782" y="274.8"/><use href="#cl" x="795.6" y="241.2"/><use href="#cl" x="811.8" y="249.8"/><use href="#cl" x="827.9" y="261.9"/><use href="#cl" x="843.9" y="254.3"/><use href="#cl" x="860.2" y="228.8"/><use href="#cl" x="876" y="238.9"/><use href="#cl" x="891.9" y="237.6"/><use href="#cl" x="908.1" y="224.5"/><use href="#cl" x="924.1" y="208.9"/><use href="#cl" x="940.1" y="218.75"/><use href="#cl" x="956.1" y="216.6"/><use href="#cl" x="972.1" y="216.6"/></g>
<g font-size="7.3" font-weight="bold" fill="#000" text-anchor="middle" letter-spacing="0.25" stroke="#fff" stroke-width="1.1" stroke-linejoin="round" paint-order="stroke" style="paint-order:stroke"><text x="244.69" y="362.9">0.4</text><text x="421.18" y="379.9">0.1</text><text x="437.22" y="232.9">2.9</text><text x="445.24" y="321.9">1.2</text><text x="461.29" y="360.6">0.4</text><text x="469.31" y="378.9">0.1</text><text x="477.33" y="345.2">0.7</text><text x="485.35" y="359.6">0.4</text><text x="709.97" y="372.2">0.2</text><text x="717.99" y="166.3">4.3</text><text x="726.41" y="249.4">2.6</text><text x="734.04" y="306.1">1.5</text><text x="750.08" y="331.5">1.0</text><text x="766.12" y="344.4">0.8</text><text x="790.19" y="354.1">0.6</text><text x="798.21" y="376.3">0.1</text><text x="822.28" y="376.3">0.1</text><text x="838.32" y="376.3">0.1</text><text x="854.37" y="379.8">0.1</text><text x="878.43" y="373.3">0.2</text><text x="942.61" y="379">0.1</text><text x="966.67" y="376.3">0.1</text></g>
<path d="M32.02,388.5V416.5M40.04,388.5V416.5M48.06,388.5V416.5M56.08,388.5V416.5M64.09,388.5V416.5M72.11,388.5V416.5M80.13,388.5V416.5M88.15,388.5V416.5M96.17,388.5V416.5M104.19,388.5V416.5M112.21,388.5V416.5M120.23,388.5V416.5M128.25,388.5V416.5M136.27,388.5V416.5M144.28,388.5V416.5M152.3,388.5V416.5M160.32,388.5V416.5M168.34,388.5V416.5M176.36,388.5V416.5M184.38,388.5V416.5M192.4,388.5V416.5M200.42,388.5V416.5M208.44,388.5V416.5M216.46,388.5V416.5M224.47,388.5V416.5M232.49,388.5V416.5M240.51,388.5V416.5M248.53,388.5V416.5M256.55,388.5V416.5M264.57,388.5V416.5M272.59,388.5V416.5M280.61,388.5V416.5M288.63,388.5V416.5M296.65,388.5V416.5M304.67,388.5V416.5M312.68,388.5V416.5M320.7,388.5V416.5M328.72,388.5V416.5M336.74,388.5V416.5M344.76,388.5V416.5M352.78,388.5V416.5M360.8,388.5V416.5M368.82,388.5V416.5M376.84,388.5V416.5M384.86,388.5V416.5M392.87,388.5V416.5M400.89,388.5V416.5M408.91,388.5V416.5M416.93,388.5V416.5M424.95,388.5V416.5M432.97,388.5V416.5M440.99,388.5V416.5M449.01,388.5V416.5M457.03,388.5V416.5M465.05,388.5V416.5M473.06,388.5V416.5M481.08,388.5V416.5M489.1,388.5V416.5M497.12,388.5V416.5M505.14,388.5V416.5M513.16,388.5V416.5M521.18,388.5V416.5M529.2,388.5V416.5M537.22,388.5V416.5M545.24,388.5V416.5M553.25,388.5V416.5M561.27,388.5V416.5M569.29,388.5V416.5M577.31,388.5V416.5M585.33,388.5V416.5M593.35,388.5V416.5M601.37,388.5V416.5M609.39,388.5V416.5M617.41,388.5V416.5M625.42,388.5V416.5M633.44,388.5V416.5M641.46,388.5V416.5M649.48,388.5V416.5M657.5,388.5V416.5M665.52,388.5V416.5M673.54,388.5V416.5M681.56,388.5V416.5M689.58,388.5V416.5M697.6,388.5V416.5M705.62,388.5V416.5M713.63,388.5V416.5M721.65,388.5V416.5M729.67,388.5V416.5M737.69,388.5V416.5M745.71,388.5V416.5M753.73,388.5V416.5M761.75,388.5V416.5M769.77,388.5V416.5M777.79,388.5V416.5M785.81,388.5V416.5M793.82,388.5V416.5M801.84,388.5V416.5M809.86,388.5V416.5M817.88,388.5V416.5M825.9,388.5V416.5M833.92,388.5V416.5M841.94,388.5V416.5M849.96,388.5V416.5M857.98,388.5V416.5M866,388.5V416.5M874.01,388.5V416.5M882.03,388.5V416.5M890.05,388.5V416.5M898.07,388.5V416.5M906.09,388.5V416.5M914.11,388.5V416.5M922.13,388.5V416.5M930.15,388.5V416.5M938.17,388.5V416.5M946.19,388.5V416.5M954.2,388.5V416.5M962.22,388.5V416.5M970.24,388.5V416.5M978.26,388.5V416.5" stroke="#d9d9d9" stroke-width="1" fill="none"/>
<path d="M23.7,413.7V416.5M26.37,413.7V416.5M29.05,413.7V416.5M31.72,413.7V416.5M34.39,413.7V416.5M37.06,413.7V416.5M39.74,413.7V416.5M42.41,413.7V416.5M45.08,413.7V416.5M47.76,413.7V416.5M50.43,413.7V416.5M53.1,413.7V416.5M55.78,413.7V416.5M58.45,413.7V416.5M61.12,413.7V416.5M63.8,413.7V416.5M66.47,413.7V416.5M69.14,413.7V416.5M71.81,413.7V416.5M74.49,413.7V416.5M77.16,413.7V416.5M79.83,413.7V416.5M82.51,413.7V416.5M85.18,413.7V416.5M87.85,413.7V416.5M90.53,413.7V416.5M93.2,413.7V416.5M95.87,413.7V416.5M98.54,413.7V416.5M101.22,413.7V416.5M103.89,413.7V416.5M106.56,413.7V416.5M109.24,413.7V416.5M111.91,413.7V416.5M114.58,413.7V416.5M117.26,413.7V416.5M119.93,413.7V416.5M122.6,413.7V416.5M125.27,413.7V416.5M127.95,413.7V416.5M130.62,413.7V416.5M133.29,413.7V416.5M135.97,413.7V416.5M138.64,413.7V416.5M141.31,413.7V416.5M143.98,413.7V416.5M146.66,413.7V416.5M149.33,413.7V416.5M152,413.7V416.5M154.68,413.7V416.5M157.35,413.7V416.5M160.02,413.7V416.5M162.7,413.7V416.5M165.37,413.7V416.5M168.04,413.7V416.5M170.72,413.7V416.5M173.39,413.7V416.5M176.06,413.7V416.5M178.73,413.7V416.5M181.41,413.7V416.5M184.08,413.7V416.5M186.75,413.7V416.5M189.43,413.7V416.5M192.1,413.7V416.5M194.77,413.7V416.5M197.44,413.7V416.5M200.12,413.7V416.5M202.79,413.7V416.5M205.46,413.7V416.5M208.14,413.7V416.5M210.81,413.7V416.5M213.48,413.7V416.5M216.16,413.7V416.5M218.83,413.7V416.5M221.5,413.7V416.5M224.17,413.7V416.5M226.85,413.7V416.5M229.52,413.7V416.5M232.19,413.7V416.5M234.87,413.7V416.5M237.54,413.7V416.5M240.21,413.7V416.5M242.89,413.7V416.5M245.56,413.7V416.5M248.23,413.7V416.5M250.91,413.7V416.5M253.58,413.7V416.5M256.25,413.7V416.5M258.92,413.7V416.5M261.6,413.7V416.5M264.27,413.7V416.5M266.94,413.7V416.5M269.62,413.7V416.5M272.29,413.7V416.5M274.96,413.7V416.5M277.63,413.7V416.5M280.31,413.7V416.5M282.98,413.7V416.5M285.65,413.7V416.5M288.33,413.7V416.5M291,413.7V416.5M293.67,413.7V416.5M296.35,413.7V416.5M299.02,413.7V416.5M301.69,413.7V416.5M304.37,413.7V416.5M307.04,413.7V416.5M309.71,413.7V416.5M312.38,413.7V416.5M315.06,413.7V416.5M317.73,413.7V416.5M320.4,413.7V416.5M323.08,413.7V416.5M325.75,413.7V416.5M328.42,413.7V416.5M331.09,413.7V416.5M333.77,413.7V416.5M336.44,413.7V416.5M339.11,413.7V416.5M341.79,413.7V416.5M344.46,413.7V416.5M347.13,413.7V416.5M349.81,413.7V416.5M352.48,413.7V416.5M355.15,413.7V416.5M357.82,413.7V416.5M360.5,413.7V416.5M363.17,413.7V416.5M365.84,413.7V416.5M368.52,413.7V416.5M371.19,413.7V416.5M373.86,413.7V416.5M376.54,413.7V416.5M379.21,413.7V416.5M381.88,413.7V416.5M384.56,413.7V416.5M387.23,413.7V416.5M389.9,413.7V416.5M392.57,413.7V416.5M395.25,413.7V416.5M397.92,413.7V416.5M400.59,413.7V416.5M403.27,413.7V416.5M405.94,413.7V416.5M408.61,413.7V416.5M411.28,413.7V416.5M413.96,413.7V416.5M416.63,413.7V416.5M419.3,413.7V416.5M421.98,413.7V416.5M424.65,413.7V416.5M427.32,413.7V416.5M430,413.7V416.5M432.67,413.7V416.5M435.34,413.7V416.5M438.01,413.7V416.5M440.69,413.7V416.5M443.36,413.7V416.5M446.03,413.7V416.5M448.71,413.7V416.5M451.38,413.7V416.5M454.05,413.7V416.5M456.73,413.7V416.5M459.4,413.7V416.5M462.07,413.7V416.5M464.75,413.7V416.5M467.42,413.7V416.5M470.09,413.7V416.5M472.76,413.7V416.5M475.44,413.7V416.5M478.11,413.7V416.5M480.78,413.7V416.5M483.46,413.7V416.5M486.13,413.7V416.5M488.8,413.7V416.5M491.48,413.7V416.5M494.15,413.7V416.5M496.82,413.7V416.5M499.49,413.7V416.5M502.17,413.7V416.5M504.84,413.7V416.5M507.51,413.7V416.5M510.19,413.7V416.5M512.86,413.7V416.5M515.53,413.7V416.5M518.21,413.7V416.5M520.88,413.7V416.5M523.55,413.7V416.5M526.22,413.7V416.5M528.9,413.7V416.5M531.57,413.7V416.5M534.24,413.7V416.5M536.92,413.7V416.5M539.59,413.7V416.5M542.26,413.7V416.5M544.94,413.7V416.5M547.61,413.7V416.5M550.28,413.7V416.5M552.95,413.7V416.5M555.63,413.7V416.5M558.3,413.7V416.5M560.97,413.7V416.5M563.65,413.7V416.5M566.32,413.7V416.5M568.99,413.7V416.5M571.67,413.7V416.5M574.34,413.7V416.5M577.01,413.7V416.5M579.68,413.7V416.5M582.36,413.7V416.5M585.03,413.7V416.5M587.7,413.7V416.5M590.38,413.7V416.5M593.05,413.7V416.5M595.72,413.7V416.5M598.4,413.7V416.5M601.07,413.7V416.5M603.74,413.7V416.5M606.41,413.7V416.5M609.09,413.7V416.5M611.76,413.7V416.5M614.43,413.7V416.5M617.11,413.7V416.5M619.78,413.7V416.5M622.45,413.7V416.5M625.12,413.7V416.5M627.8,413.7V416.5M630.47,413.7V416.5M633.14,413.7V416.5M635.82,413.7V416.5M638.49,413.7V416.5M641.16,413.7V416.5M643.84,413.7V416.5M646.51,413.7V416.5M649.18,413.7V416.5M651.86,413.7V416.5M654.53,413.7V416.5M657.2,413.7V416.5M659.87,413.7V416.5M662.55,413.7V416.5M665.22,413.7V416.5M667.89,413.7V416.5M670.57,413.7V416.5M673.24,413.7V416.5M675.91,413.7V416.5M678.59,413.7V416.5M681.26,413.7V416.5M683.93,413.7V416.5M686.6,413.7V416.5M689.28,413.7V416.5M691.95,413.7V416.5M694.62,413.7V416.5M697.3,413.7V416.5M699.97,413.7V416.5M702.64,413.7V416.5M705.32,413.7V416.5M707.99,413.7V416.5M710.66,413.7V416.5M713.33,413.7V416.5M716.01,413.7V416.5M718.68,413.7V416.5M721.35,413.7V416.5M724.03,413.7V416.5M726.7,413.7V416.5M729.37,413.7V416.5M732.05,413.7V416.5M734.72,413.7V416.5M737.39,413.7V416.5M740.06,413.7V416.5M742.74,413.7V416.5M745.41,413.7V416.5M748.08,413.7V416.5M750.76,413.7V416.5M753.43,413.7V416.5M756.1,413.7V416.5M758.78,413.7V416.5M761.45,413.7V416.5M764.12,413.7V416.5M766.79,413.7V416.5M769.47,413.7V416.5M772.14,413.7V416.5M774.81,413.7V416.5M777.49,413.7V416.5M780.16,413.7V416.5M782.83,413.7V416.5M785.51,413.7V416.5M788.18,413.7V416.5M790.85,413.7V416.5M793.52,413.7V416.5M796.2,413.7V416.5M798.87,413.7V416.5M801.54,413.7V416.5M804.22,413.7V416.5M806.89,413.7V416.5M809.56,413.7V416.5M812.24,413.7V416.5M814.91,413.7V416.5M817.58,413.7V416.5M820.25,413.7V416.5M822.93,413.7V416.5M825.6,413.7V416.5M828.27,413.7V416.5M830.95,413.7V416.5M833.62,413.7V416.5M836.29,413.7V416.5M838.97,413.7V416.5M841.64,413.7V416.5M844.31,413.7V416.5M846.98,413.7V416.5M849.66,413.7V416.5M852.33,413.7V416.5M855,413.7V416.5M857.68,413.7V416.5M860.35,413.7V416.5M863.02,413.7V416.5M865.7,413.7V416.5M868.37,413.7V416.5M871.04,413.7V416.5M873.71,413.7V416.5M876.39,413.7V416.5M879.06,413.7V416.5M881.73,413.7V416.5M884.41,413.7V416.5M887.08,413.7V416.5M889.75,413.7V416.5M892.43,413.7V416.5M895.1,413.7V416.5M897.77,413.7V416.5M900.44,413.7V416.5M903.12,413.7V416.5M905.79,413.7V416.5M908.46,413.7V416.5M911.14,413.7V416.5M913.81,413.7V416.5M916.48,413.7V416.5M919.16,413.7V416.5M921.83,413.7V416.5M924.5,413.7V416.5M927.17,413.7V416.5M929.85,413.7V416.5M932.52,413.7V416.5M935.19,413.7V416.5M937.87,413.7V416.5M940.54,413.7V416.5M943.21,413.7V416.5M945.89,413.7V416.5M948.56,413.7V416.5M951.23,413.7V416.5M953.9,413.7V416.5M956.58,413.7V416.5M959.25,413.7V416.5M961.92,413.7V416.5M964.6,413.7V416.5M967.27,413.7V416.5M969.94,413.7V416.5M972.62,413.7V416.5M975.29,413.7V416.5M977.96,413.7V416.5M980.63,413.7V416.5M983.31,413.7V416.5M985.98,413.7V416.5" stroke="#d3dcee" stroke-width="0.8" fill="none"/>
<path d="M23.5,416.5H986.5" stroke="#ccd6eb" stroke-width="1" fill="none"/>
<g stroke="#000" stroke-width="1.4" fill="#000" stroke-linejoin="miter"><use href="#a1" transform="translate(35.6,401.65) rotate(206.5)"/><use href="#a1" transform="translate(59.67,401.65) rotate(176)"/><use href="#a1" transform="translate(83.73,401.65) rotate(177.5)"/><use href="#a1" transform="translate(107.8,401.65) rotate(165)"/><use href="#a1" transform="translate(131.86,401.65) rotate(186)"/><use href="#a1" transform="translate(155.93,401.65) rotate(178)"/><use href="#a1" transform="translate(180,401.65) rotate(196)"/><use href="#a0" transform="translate(204.06,401.65) rotate(180)"/><use href="#a0" transform="translate(228.13,401.65) rotate(258)"/><use href="#a0" transform="translate(252.19,401.65) rotate(223)"/><use href="#a0" transform="translate(276.26,401.65) rotate(262)"/><use href="#a1" transform="translate(300.33,401.65) rotate(209)"/><use href="#a2" transform="translate(324.39,401.65) rotate(222)"/><use href="#a2" transform="translate(348.46,401.65) rotate(211)"/><use href="#a1" transform="translate(372.52,401.65) rotate(223)"/><use href="#a1" transform="translate(396.59,401.65) rotate(198.4)"/><use href="#a1" transform="translate(420.66,401.65) rotate(256.4)"/><use href="#a0" transform="translate(444.72,401.65) rotate(291.7)"/><use href="#a1" transform="translate(468.79,401.65) rotate(242.4)"/><use href="#a1" transform="translate(492.85,401.65) rotate(238)"/><use href="#a1" transform="translate(516.92,401.65) rotate(50)"/><use href="#a1" transform="translate(540.99,401.65) rotate(190)"/><use href="#a1" transform="translate(565.05,401.65) rotate(256.4)"/><use href="#a0" transform="translate(589.12,401.65) rotate(311)"/><use href="#a1" transform="translate(613.18,401.65) rotate(188.5)"/><use href="#a1" transform="translate(637.25,401.65) rotate(234)"/><use href="#a1" transform="translate(661.32,401.65) rotate(29)"/><use href="#a3" transform="translate(685.38,401.65) rotate(25)"/><use href="#a2" transform="translate(709.45,401.65) rotate(25)"/><use href="#a2" transform="translate(733.51,401.65) rotate(66.4)"/><use href="#a1" transform="translate(757.58,401.65) rotate(51)"/><use href="#a1" transform="translate(781.65,401.65) rotate(23.7)"/><use href="#a0" transform="translate(805.71,401.65) rotate(106.3)"/><use href="#a1" transform="translate(829.78,401.65) rotate(163.5)"/><use href="#a1" transform="translate(853.84,401.65) rotate(153)"/><use href="#a1" transform="translate(877.91,401.65) rotate(147)"/><use href="#a0" transform="translate(901.98,401.65) rotate(207)"/><use href="#a0" transform="translate(926.04,401.65) rotate(166.6)"/><use href="#a1" transform="translate(950.11,401.65) rotate(196)"/><use href="#a1" transform="translate(974.17,401.65) rotate(147.4)"/></g>
<g font-size="9.5" fill="#666666" text-anchor="middle" letter-spacing="0.6" class="w"><text x="32.52" y="432.9">16</text><text x="53.9" y="432.9">00</text><text x="75.29" y="432.9">08</text><text x="96.67" y="432.9">16</text><text x="118.06" y="432.9">00</text><text x="139.44" y="432.9">08</text><text x="160.82" y="432.9">16</text><text x="182.21" y="432.9">00</text><text x="203.59" y="432.9">08</text><text x="224.97" y="432.9">16</text><text x="246.36" y="432.9">00</text><text x="267.74" y="432.9">08</text><text x="289.13" y="432.9">16</text><text x="310.51" y="432.9">00</text><text x="331.89" y="432.9">08</text><text x="353.28" y="432.9">16</text><text x="374.66" y="432.9">00</text><text x="396.05" y="432.9">08</text><text x="417.43" y="432.9">16</text><text x="438.81" y="432.9">00</text><text x="460.2" y="432.9">08</text><text x="481.58" y="432.9">16</text><text x="502.97" y="432.9">00</text><text x="524.35" y="432.9">08</text><text x="545.74" y="432.9">16</text><text x="567.12" y="432.9">00</text><text x="588.5" y="432.9">08</text><text x="609.89" y="432.9">16</text><text x="631.27" y="432.9">00</text><text x="652.65" y="432.9">08</text><text x="674.04" y="432.9">16</text><text x="695.42" y="432.9">00</text><text x="716.81" y="432.9">08</text><text x="738.19" y="432.9">16</text><text x="759.58" y="432.9">00</text><text x="780.96" y="432.9">08</text><text x="802.34" y="432.9">16</text><text x="823.73" y="432.9">00</text><text x="845.11" y="432.9">08</text><text x="866.5" y="432.9">16</text><text x="887.88" y="432.9">00</text><text x="909.26" y="432.9">08</text><text x="930.65" y="432.9">16</text><text x="952.03" y="432.9">00</text><text x="973.41" y="432.9">08</text></g>
<text x="505.2" y="450.9" text-anchor="middle" font-size="10.6" fill="#666666" textLength="102" lengthAdjust="spacingAndGlyphs">Local time (UTC+1)</text>
<text x="986.5" y="447.6" text-anchor="end" font-size="8.6" fill="#999999">wetterzentrale.de</text>
</svg></body></html>
